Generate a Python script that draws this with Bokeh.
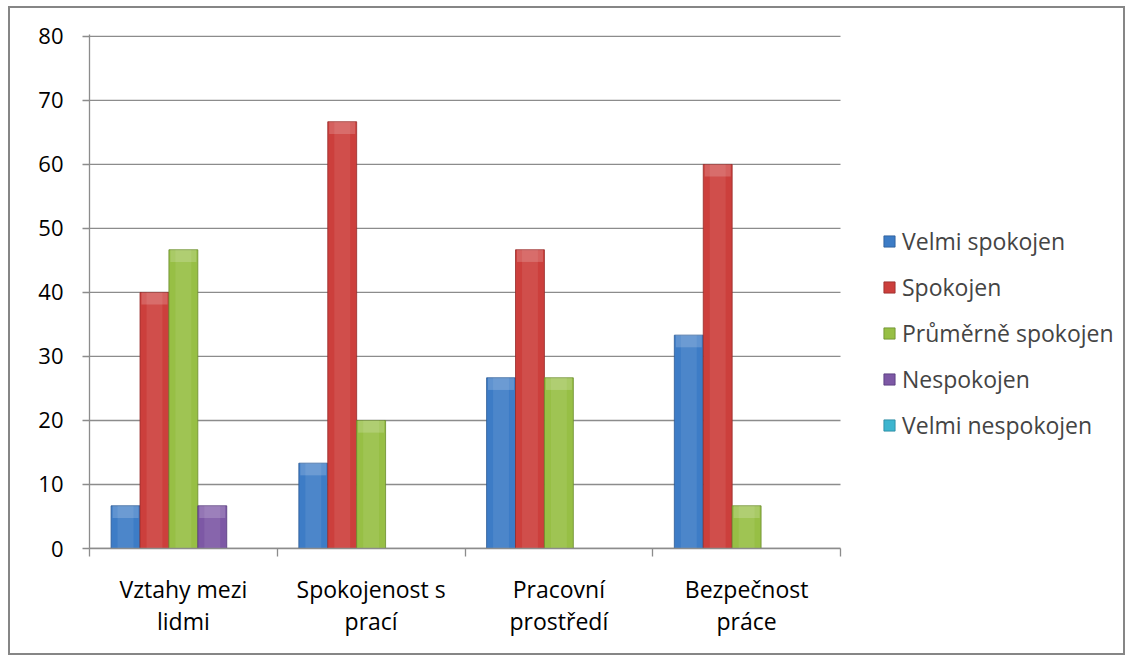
from bokeh.plotting import figure
from bokeh.models import Range1d, FixedTicker, Legend, LegendItem, ColumnDataSource
from bokeh.embed import file_html
from bokeh.resources import INLINE

categories = ["Vztahy mezi\nlidmi", "Spokojenost s\nprací", "Pracovní\nprostředí", "Bezpečnost\npráce"]
series_names = ["Velmi spokojen", "Spokojen", "Průměrně spokojen", "Nespokojen", "Velmi nespokojen"]
velmi_spokojen = [6.67, 13.33, 26.67, 33.33]
spokojen = [40.0, 66.67, 46.67, 60.0]
prumerne_spokojen = [46.67, 20.0, 26.67, 6.67]
nespokojen = [6.67, 0.0, 0.0, 0.0]
velmi_nespokojen = [0.0, 0.0, 0.0, 0.0]
y_ticks = [0, 10, 20, 30, 40, 50, 60, 70, 80]

series_values = [velmi_spokojen, spokojen, prumerne_spokojen, nespokojen, velmi_nespokojen]
colors = ["#3d7cc6", "#cc3f3c", "#97bf45", "#7d58a5", "#3db5cf"]
dark = ["#2a5a95", "#962a28", "#6a8c2c", "#54387a", "#27869c"]

FONT = "Open Sans"
n = len(categories)

# frame spans from x=89px to the right edge; the categories occupy 0..n (89..840px)
x_end = n * (1135 - 89) / (840 - 89)

p = figure(width=1135, height=665, output_backend="svg", toolbar_location=None,
           x_range=Range1d(0, x_end), y_range=Range1d(0, 80.3),
           min_border_left=89, min_border_right=0, min_border_top=34, min_border_bottom=117)
p.outline_line_color = None
p.background_fill_color = "white"
p.border_fill_color = "white"
p.stylesheets = [":host::after { content: ''; position: absolute; left: 8px; top: 6px; "
                 "width: 1117px; height: 649px; border: 2px solid #868686; "
                 "box-sizing: border-box; pointer-events: none; z-index: 100; }"]

# horizontal gridlines limited to the category area
p.xgrid.grid_line_color = None
p.ygrid.grid_line_color = None
p.segment(x0=[0] * len(y_ticks), x1=[n] * len(y_ticks), y0=y_ticks, y1=y_ticks,
          line_color="#8c8c8c", line_width=1.3)

# y axis
p.yaxis.ticker = FixedTicker(ticks=y_ticks)
p.yaxis.axis_line_color = "#8c8c8c"
p.yaxis.axis_line_width = 1.3
p.yaxis.major_tick_line_color = "#8c8c8c"
p.yaxis.major_tick_line_width = 1.3
p.yaxis.major_tick_out = 7
p.yaxis.major_tick_in = 0
p.yaxis.minor_tick_line_color = None
p.yaxis.major_label_text_font = FONT
p.yaxis.major_label_text_font_size = "22px"
p.yaxis.major_label_text_color = "black"
p.yaxis.major_label_standoff = 19

# x axis: labels at centers, tick marks at boundaries (minor ticks)
centers = [i + 0.5 for i in range(n)]
p.xaxis.ticker = FixedTicker(ticks=centers, minor_ticks=list(range(n + 1)))
p.xaxis.bounds = (0, n)
p.xaxis.major_label_overrides = {c: lab for c, lab in zip(centers, categories)}
p.xaxis.major_tick_line_color = None
p.xaxis.minor_tick_line_color = "#8c8c8c"
p.xaxis.minor_tick_line_width = 1.3
p.xaxis.minor_tick_out = 8
p.xaxis.minor_tick_in = 0
p.xaxis.axis_line_color = "#8c8c8c"
p.xaxis.axis_line_width = 1.3
p.xaxis.major_label_text_font = FONT
p.xaxis.major_label_text_font_size = "23px"
p.xaxis.major_label_text_color = "black"
p.xaxis.major_label_standoff = 16
p.xaxis.major_label_text_line_height = 1.0

bw = 0.154
cap = 1.9  # height of the lighter bevel band at the top of each bar
items = []
for k, (name, vals) in enumerate(zip(series_names, series_values)):
    xs = [i + 0.5 + (k - 2) * bw for i in range(n)]
    src = ColumnDataSource(dict(x=xs, top=vals,
                                capb=[max(v - cap, 0) for v in vals]))
    r = p.vbar(x="x", top="top", width=bw, source=src, fill_color=colors[k],
               line_color=dark[k], line_width=1, line_alpha=0.8)
    p.vbar(x="x", top="top", width=bw * 0.55, source=src, fill_color="white",
           fill_alpha=0.08, line_color=None)
    p.vbar(x="x", top="top", bottom="capb", width=bw * 0.9, source=src,
           fill_color="white", fill_alpha=0.18, line_color=None)
    items.append(LegendItem(label=name, renderers=[r]))

legend = Legend(items=items, location=(793, 107), orientation="vertical",
                glyph_width=14, glyph_height=14, label_height=24, spacing=14,
                label_text_font=FONT, label_text_font_size="23px",
                label_standoff=6, padding=0, margin=0,
                border_line_color=None, background_fill_alpha=0)
p.add_layout(legend, "center")

open("out.html", "w").write(file_html(p, INLINE))
